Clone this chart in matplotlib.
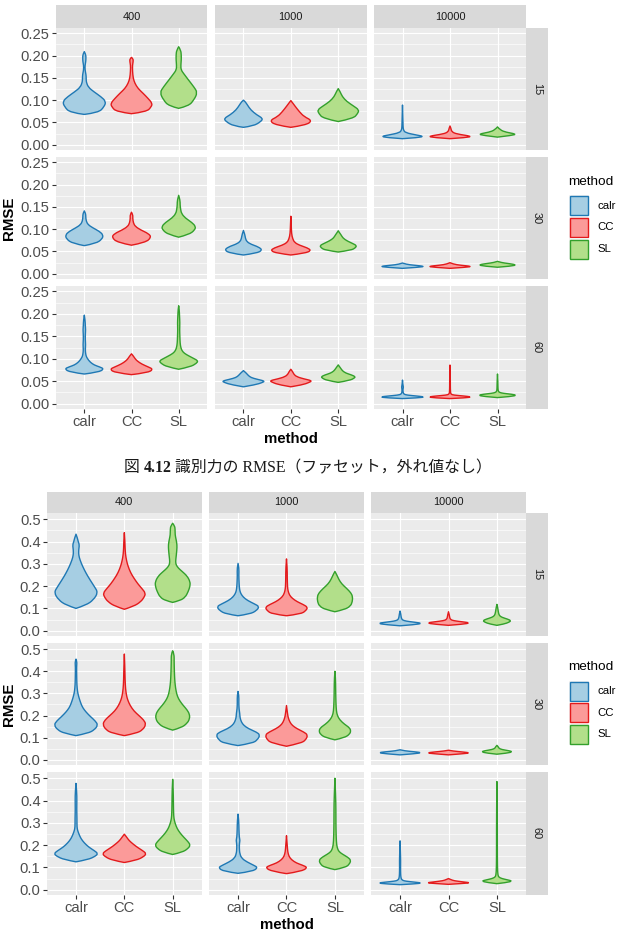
import matplotlib
matplotlib.use("Agg")
import matplotlib.pyplot as plt
from matplotlib.patches import Rectangle, PathPatch
from matplotlib.path import Path

# ---------------- data ----------------
methods = ["calr", "CC", "SL"]
sizes = ["400", "1000", "10000"]
items = ["15", "30", "60"]
fill_colors = ["#A6CEE3", "#FB9A99", "#B2DF8A"]
line_colors = ["#1F78B4", "#E31A1C", "#33A02C"]

upper_yticks = [0.00, 0.05, 0.10, 0.15, 0.20, 0.25]
upper_yticklabels = ["0.00", "0.05", "0.10", "0.15", "0.20", "0.25"]
upper_yminor = [0.025, 0.075, 0.125, 0.175, 0.225]
lower_yticks = [0.0, 0.1, 0.2, 0.3, 0.4, 0.5]
lower_yticklabels = ["0.0", "0.1", "0.2", "0.3", "0.4", "0.5"]
lower_yminor = [0.05, 0.15, 0.25, 0.35, 0.45]

caption = ["図 ", "4.12", " 識別力の RMSE（ファセット，外れ値なし）"]

# violin outlines: (RMSE, half width) per method
# ---- upper chart (識別力) ----
up_15_400 = [
    [(0.068, 0), (0.072, 0.30), (0.085, 0.42), (0.097, 0.46), (0.108, 0.35), (0.119, 0.20), (0.129, 0.085),
     (0.141, 0.04), (0.150, 0.04), (0.158, 0.035), (0.168, 0.015), (0.178, 0.015), (0.186, 0.03),
     (0.195, 0.035), (0.203, 0.03), (0.209, 0)],
    [(0.0696, 0), (0.074, 0.32), (0.085, 0.42), (0.093, 0.44), (0.104, 0.35), (0.115, 0.25), (0.126, 0.14),
     (0.138, 0.07), (0.150, 0.035), (0.165, 0.022), (0.178, 0.02), (0.186, 0.035), (0.193, 0.035), (0.196, 0)],
    [(0.0816, 0), (0.087, 0.21), (0.100, 0.32), (0.117, 0.40), (0.130, 0.32), (0.145, 0.21), (0.159, 0.11),
     (0.168, 0.05), (0.178, 0.045), (0.190, 0.055), (0.201, 0.055), (0.212, 0.045), (0.220, 0)],
]
up_15_1000 = [
    [(0.039, 0), (0.042, 0.21), (0.052, 0.37), (0.059, 0.41), (0.067, 0.28), (0.078, 0.155), (0.089, 0.085),
     (0.097, 0.035), (0.100, 0)],
    [(0.039, 0), (0.044, 0.32), (0.054, 0.45), (0.063, 0.28), (0.074, 0.18), (0.087, 0.085), (0.095, 0.03),
     (0.099, 0)],
    [(0.052, 0), (0.059, 0.32), (0.070, 0.41), (0.078, 0.44), (0.087, 0.32), (0.097, 0.18), (0.108, 0.085),
     (0.119, 0.04), (0.126, 0)],
]
up_15_10000 = [
    [(0.0135, 0), (0.016, 0.35), (0.019, 0.44), (0.022, 0.28), (0.027, 0.06), (0.033, 0.02), (0.040, 0.012),
     (0.060, 0.008), (0.089, 0)],
    [(0.0135, 0), (0.016, 0.35), (0.019, 0.46), (0.024, 0.14), (0.029, 0.035), (0.037, 0.02), (0.042, 0)],
    [(0.017, 0), (0.021, 0.32), (0.024, 0.39), (0.028, 0.18), (0.033, 0.055), (0.040, 0)],
]
up_30_400 = [
    [(0.063, 0), (0.068, 0.25), (0.078, 0.38), (0.087, 0.40), (0.095, 0.32), (0.103, 0.18), (0.110, 0.08),
     (0.118, 0.04), (0.128, 0.03), (0.135, 0.03), (0.141, 0)],
    [(0.064, 0), (0.070, 0.30), (0.082, 0.42), (0.090, 0.36), (0.098, 0.20), (0.106, 0.08), (0.114, 0.04),
     (0.125, 0.025), (0.132, 0.03), (0.138, 0)],
    [(0.082, 0), (0.088, 0.22), (0.098, 0.34), (0.106, 0.36), (0.115, 0.28), (0.125, 0.14), (0.135, 0.06),
     (0.145, 0.04), (0.155, 0.03), (0.165, 0.03), (0.176, 0)],
]
up_30_1000 = [
    [(0.042, 0), (0.046, 0.28), (0.053, 0.40), (0.060, 0.32), (0.066, 0.16), (0.072, 0.07), (0.080, 0.04),
     (0.088, 0.03), (0.097, 0)],
    [(0.042, 0), (0.046, 0.30), (0.052, 0.43), (0.058, 0.35), (0.064, 0.18), (0.070, 0.08), (0.078, 0.04),
     (0.090, 0.015), (0.110, 0.008), (0.129, 0)],
    [(0.0486, 0), (0.053, 0.28), (0.058, 0.36), (0.063, 0.39), (0.068, 0.30), (0.074, 0.18), (0.080, 0.10),
     (0.087, 0.06), (0.093, 0.02), (0.0964, 0)],
]
up_30_10000 = [
    [(0.012, 0), (0.0145, 0.35), (0.0165, 0.47), (0.019, 0.25), (0.021, 0.08), (0.024, 0)],
    [(0.012, 0), (0.0145, 0.35), (0.0165, 0.46), (0.019, 0.22), (0.0215, 0.07), (0.0247, 0)],
    [(0.0145, 0), (0.017, 0.30), (0.020, 0.40), (0.023, 0.22), (0.025, 0.08), (0.0277, 0)],
]
up_60_400 = [
    [(0.066, 0), (0.070, 0.30), (0.0773, 0.42), (0.082, 0.32), (0.086, 0.21), (0.092, 0.13), (0.0976, 0.085),
     (0.104, 0.045), (0.110, 0.03), (0.120, 0.02), (0.131, 0.028), (0.143, 0.02), (0.155, 0.022),
     (0.165, 0.028), (0.175, 0.02), (0.185, 0.018), (0.197, 0)],
    [(0.0646, 0), (0.069, 0.35), (0.0766, 0.46), (0.082, 0.35), (0.088, 0.22), (0.095, 0.12), (0.101, 0.07),
     (0.106, 0.04), (0.111, 0)],
    [(0.0766, 0), (0.082, 0.25), (0.090, 0.38), (0.0953, 0.41), (0.100, 0.33), (0.106, 0.22), (0.112, 0.12),
     (0.118, 0.07), (0.125, 0.045), (0.135, 0.03), (0.150, 0.025), (0.165, 0.02), (0.180, 0.025),
     (0.195, 0.018), (0.210, 0.012), (0.218, 0)],
]
up_60_1000 = [
    [(0.0375, 0), (0.042, 0.25), (0.047, 0.40), (0.0503, 0.45), (0.054, 0.30), (0.058, 0.16), (0.063, 0.10),
     (0.068, 0.06), (0.0736, 0)],
    [(0.0375, 0), (0.042, 0.25), (0.047, 0.38), (0.051, 0.45), (0.055, 0.28), (0.060, 0.12), (0.066, 0.06),
     (0.071, 0.04), (0.0766, 0)],
    [(0.0473, 0), (0.052, 0.25), (0.057, 0.34), (0.060, 0.36), (0.064, 0.28), (0.068, 0.16), (0.073, 0.09),
     (0.079, 0.05), (0.0863, 0)],
]
up_60_10000 = [
    [(0.0113, 0), (0.013, 0.35), (0.015, 0.47), (0.017, 0.30), (0.019, 0.10), (0.021, 0.03), (0.025, 0.012),
     (0.032, 0.01), (0.037, 0.02), (0.042, 0.008), (0.0525, 0)],
    [(0.0113, 0), (0.013, 0.35), (0.015, 0.45), (0.017, 0.30), (0.019, 0.08), (0.021, 0.02), (0.026, 0.01),
     (0.040, 0.007), (0.060, 0.007), (0.086, 0)],
    [(0.0135, 0), (0.016, 0.30), (0.0188, 0.40), (0.021, 0.30), (0.023, 0.12), (0.025, 0.04), (0.028, 0.015),
     (0.035, 0.01), (0.050, 0.008), (0.066, 0)],
]

# ---- lower chart ----
lo_15_400 = [
    [(0.100, 0), (0.115, 0.21), (0.138, 0.36), (0.171, 0.455), (0.198, 0.38), (0.228, 0.29), (0.257, 0.21),
     (0.287, 0.14), (0.317, 0.083), (0.340, 0.055), (0.362, 0.055), (0.385, 0.07), (0.400, 0.045),
     (0.415, 0.03), (0.433, 0)],
    [(0.096, 0), (0.110, 0.20), (0.130, 0.34), (0.150, 0.41), (0.168, 0.44), (0.190, 0.36), (0.210, 0.28),
     (0.235, 0.20), (0.260, 0.13), (0.290, 0.075), (0.315, 0.045), (0.340, 0.025), (0.370, 0.015),
     (0.400, 0.012), (0.440, 0)],
    [(0.127, 0), (0.135, 0.15), (0.150, 0.26), (0.175, 0.32), (0.200, 0.36), (0.220, 0.36), (0.245, 0.30),
     (0.265, 0.20), (0.280, 0.12), (0.295, 0.07), (0.310, 0.06), (0.330, 0.07), (0.360, 0.085),
     (0.385, 0.09), (0.410, 0.07), (0.430, 0.05), (0.455, 0.05), (0.470, 0.04), (0.482, 0)],
]
lo_15_1000 = [
    [(0.067, 0), (0.075, 0.25), (0.090, 0.38), (0.108, 0.44), (0.120, 0.34), (0.135, 0.20), (0.150, 0.11),
     (0.165, 0.06), (0.180, 0.035), (0.200, 0.025), (0.220, 0.02), (0.250, 0.015), (0.280, 0.02), (0.302, 0)],
    [(0.067, 0), (0.075, 0.30), (0.090, 0.40), (0.105, 0.44), (0.118, 0.34), (0.130, 0.22), (0.145, 0.12),
     (0.160, 0.06), (0.180, 0.03), (0.200, 0.02), (0.240, 0.015), (0.280, 0.015), (0.322, 0)],
    [(0.085, 0), (0.095, 0.20), (0.110, 0.32), (0.130, 0.36), (0.153, 0.365), (0.170, 0.33), (0.190, 0.24),
     (0.210, 0.14), (0.230, 0.08), (0.250, 0.04), (0.266, 0)],
]
lo_15_10000 = [
    [(0.022, 0), (0.027, 0.30), (0.033, 0.46), (0.038, 0.30), (0.043, 0.12), (0.048, 0.05), (0.055, 0.03),
     (0.065, 0.02), (0.075, 0.015), (0.088, 0)],
    [(0.024, 0), (0.029, 0.30), (0.035, 0.45), (0.040, 0.28), (0.045, 0.10), (0.050, 0.045), (0.058, 0.025),
     (0.068, 0.02), (0.085, 0)],
    [(0.024, 0), (0.030, 0.15), (0.038, 0.25), (0.045, 0.29), (0.052, 0.22), (0.060, 0.10), (0.068, 0.05),
     (0.078, 0.035), (0.090, 0.025), (0.105, 0.015), (0.118, 0)],
]
lo_30_400 = [
    [(0.109, 0), (0.120, 0.25), (0.135, 0.38), (0.157, 0.455), (0.175, 0.40), (0.195, 0.30), (0.215, 0.21),
     (0.235, 0.14), (0.255, 0.10), (0.275, 0.07), (0.290, 0.05), (0.310, 0.03), (0.340, 0.018),
     (0.380, 0.014), (0.420, 0.012), (0.445, 0.02), (0.455, 0)],
    [(0.109, 0), (0.120, 0.25), (0.135, 0.38), (0.160, 0.45), (0.180, 0.40), (0.200, 0.30), (0.220, 0.20),
     (0.245, 0.12), (0.270, 0.07), (0.290, 0.045), (0.320, 0.025), (0.360, 0.015), (0.420, 0.01), (0.478, 0)],
    [(0.134, 0), (0.145, 0.18), (0.165, 0.30), (0.185, 0.35), (0.205, 0.35), (0.225, 0.30), (0.245, 0.22),
     (0.265, 0.15), (0.285, 0.10), (0.310, 0.07), (0.340, 0.05), (0.370, 0.04), (0.400, 0.035),
     (0.440, 0.03), (0.480, 0.03), (0.493, 0)],
]
lo_30_1000 = [
    [(0.064, 0), (0.075, 0.30), (0.090, 0.40), (0.112, 0.455), (0.125, 0.38), (0.140, 0.22), (0.155, 0.12),
     (0.170, 0.07), (0.190, 0.04), (0.210, 0.035), (0.230, 0.02), (0.260, 0.015), (0.290, 0.018), (0.309, 0)],
    [(0.061, 0), (0.075, 0.30), (0.090, 0.40), (0.112, 0.44), (0.125, 0.36), (0.140, 0.22), (0.155, 0.12),
     (0.170, 0.07), (0.190, 0.035), (0.210, 0.02), (0.245, 0)],
    [(0.090, 0), (0.100, 0.20), (0.115, 0.30), (0.130, 0.33), (0.145, 0.30), (0.160, 0.20), (0.180, 0.10),
     (0.200, 0.05), (0.220, 0.03), (0.260, 0.02), (0.320, 0.015), (0.370, 0.012), (0.400, 0)],
]
lo_30_10000 = [
    [(0.022, 0), (0.027, 0.30), (0.032, 0.45), (0.036, 0.30), (0.040, 0.10), (0.045, 0)],
    [(0.022, 0), (0.027, 0.30), (0.031, 0.45), (0.035, 0.30), (0.039, 0.10), (0.043, 0)],
    [(0.025, 0), (0.030, 0.22), (0.036, 0.32), (0.041, 0.25), (0.046, 0.10), (0.052, 0.04), (0.058, 0.03),
     (0.065, 0)],
]
lo_60_400 = [
    [(0.125, 0), (0.135, 0.25), (0.150, 0.40), (0.162, 0.455), (0.175, 0.38), (0.190, 0.27), (0.210, 0.17),
     (0.230, 0.10), (0.250, 0.06), (0.265, 0.035), (0.280, 0.02), (0.320, 0.02), (0.360, 0.015),
     (0.400, 0.018), (0.440, 0.015), (0.477, 0)],
    [(0.122, 0), (0.132, 0.25), (0.148, 0.40), (0.162, 0.455), (0.175, 0.38), (0.190, 0.27), (0.205, 0.18),
     (0.220, 0.10), (0.235, 0.05), (0.249, 0)],
    [(0.158, 0), (0.168, 0.20), (0.185, 0.32), (0.200, 0.365), (0.215, 0.32), (0.235, 0.23), (0.255, 0.15),
     (0.275, 0.09), (0.295, 0.055), (0.310, 0.035), (0.330, 0.02), (0.380, 0.015), (0.450, 0.012), (0.495, 0)],
]
lo_60_1000 = [
    [(0.0735, 0), (0.082, 0.30), (0.099, 0.41), (0.110, 0.32), (0.125, 0.18), (0.140, 0.08), (0.160, 0.035),
     (0.190, 0.025), (0.210, 0.03), (0.222, 0.04), (0.235, 0.025), (0.270, 0.018), (0.310, 0.015), (0.339, 0)],
    [(0.072, 0), (0.082, 0.30), (0.099, 0.44), (0.110, 0.33), (0.120, 0.20), (0.135, 0.10), (0.150, 0.05),
     (0.170, 0.025), (0.200, 0.015), (0.242, 0)],
    [(0.090, 0), (0.100, 0.22), (0.115, 0.30), (0.132, 0.33), (0.145, 0.27), (0.160, 0.15), (0.170, 0.09),
     (0.180, 0.06), (0.200, 0.035), (0.240, 0.025), (0.300, 0.02), (0.360, 0.02), (0.420, 0.015), (0.500, 0)],
]
lo_60_10000 = [
    [(0.0225, 0), (0.026, 0.30), (0.030, 0.46), (0.034, 0.30), (0.038, 0.12), (0.042, 0.05), (0.050, 0.02),
     (0.070, 0.012), (0.100, 0.01), (0.130, 0.012), (0.160, 0.008), (0.219, 0)],
    [(0.024, 0), (0.028, 0.30), (0.031, 0.46), (0.035, 0.30), (0.040, 0.12), (0.045, 0.05), (0.050, 0)],
    [(0.027, 0), (0.032, 0.20), (0.039, 0.32), (0.044, 0.22), (0.050, 0.10), (0.056, 0.04), (0.065, 0.02),
     (0.100, 0.01), (0.200, 0.008), (0.350, 0.008), (0.485, 0)],
]

upper_grid = [[up_15_400, up_15_1000, up_15_10000],
              [up_30_400, up_30_1000, up_30_10000],
              [up_60_400, up_60_1000, up_60_10000]]
lower_grid = [[lo_15_400, lo_15_1000, lo_15_10000],
              [lo_30_400, lo_30_1000, lo_30_10000],
              [lo_60_400, lo_60_1000, lo_60_10000]]

# ---------------- drawing ----------------
W, H = 624, 947
fig = plt.figure(figsize=(W / 100, H / 100), dpi=100)
SANS = ["Liberation Sans", "DejaVu Sans"]


def rect(l, t, r, b):
    return [l / W, 1 - b / H, (r - l) / W, (b - t) / H]


def fx(x):
    return x / W


def fy(y):
    return 1 - y / H


def smooth_side(pts):
    """quadratic B-spline path through the end points, using the knots as control points"""
    verts = [pts[0]]
    codes = []
    n = len(pts)
    if n <= 2:
        return [pts[-1]], [Path.LINETO]
    for i in range(1, n - 2):
        mid = ((pts[i][0] + pts[i + 1][0]) / 2, (pts[i][1] + pts[i + 1][1]) / 2)
        verts_i = [pts[i], mid]
        codes += [Path.CURVE3, Path.CURVE3]
        verts += verts_i
    verts += [pts[n - 2], pts[n - 1]]
    codes += [Path.CURVE3, Path.CURVE3]
    return verts[1:], codes


def draw_violin(ax, xc, prof, fc, ec):
    left = [(xc - w, y) for y, w in prof]
    right = [(xc + w, y) for y, w in reversed(prof)]
    v1, c1 = smooth_side(left)
    v2, c2 = smooth_side(right)
    verts = [left[0]] + v1 + v2 + [left[0]]
    codes = [Path.MOVETO] + c1 + c2 + [Path.CLOSEPOLY]
    patch = PathPatch(Path(verts, codes), facecolor=fc, edgecolor=ec, linewidth=1.0,
                      joinstyle="round", zorder=3)
    ax.add_patch(patch)


def draw_chart(grid, cols, rows, strip_top, right_strip, ylim, yticks, yticklabels, yminor,
               ylab_xy, xlab_xy, legend_top):
    for i, (t, b) in enumerate(rows):
        for j, (l, r) in enumerate(cols):
            ax = fig.add_axes(rect(l, t, r, b))
            ax.set_facecolor("#EBEBEB")
            for s in ax.spines.values():
                s.set_visible(False)
            ax.set_xlim(0.4, 3.6)
            ax.set_ylim(*ylim)
            ax.set_xticks([1, 2, 3])
            ax.set_yticks(yticks)
            ax.set_yticks(yminor, minor=True)
            ax.grid(which="major", color="white", linewidth=0.85)
            ax.grid(which="minor", axis="y", color="white", linewidth=0.45)
            ax.set_axisbelow(True)
            ax.tick_params(which="minor", length=0)
            ax.tick_params(which="major", color="#333333", width=0.8, length=3.2,
                           labelsize=10.6, labelcolor="#4D4D4D", pad=1.4)
            if j == 0:
                ax.set_yticklabels(yticklabels, family=SANS)
            else:
                ax.set_yticklabels([])
                ax.tick_params(axis="y", length=0)
            if i == len(rows) - 1:
                ax.set_xticklabels(methods, family=SANS)
            else:
                ax.set_xticklabels([])
                ax.tick_params(axis="x", length=0)
            for k in range(3):
                draw_violin(ax, k + 1, grid[i][j][k], fill_colors[k], line_colors[k])
    # top strips
    for j, (l, r) in enumerate(cols):
        sa = fig.add_axes(rect(l, strip_top[0], r, strip_top[1]))
        sa.set_facecolor("#D9D9D9")
        sa.set_xticks([]); sa.set_yticks([])
        for s in sa.spines.values():
            s.set_visible(False)
        sa.text(0.5, 0.5, sizes[j], ha="center", va="center", fontsize=7.9,
                color="#1A1A1A", family=SANS, transform=sa.transAxes)
    # right strips
    for i, (t, b) in enumerate(rows):
        sa = fig.add_axes(rect(right_strip[0], t, right_strip[1], b))
        sa.set_facecolor("#D9D9D9")
        sa.set_xticks([]); sa.set_yticks([])
        for s in sa.spines.values():
            s.set_visible(False)
        sa.text(0.5, 0.5, items[i], ha="center", va="center", fontsize=7.9, rotation=-90,
                color="#1A1A1A", family=SANS, transform=sa.transAxes)
    # axis titles
    fig.text(fx(ylab_xy[0]), fy(ylab_xy[1]), "RMSE", rotation=90, ha="center", va="center",
             fontsize=10.8, fontweight="bold", family=SANS)
    fig.text(fx(xlab_xy[0]), fy(xlab_xy[1]), "method", ha="center", va="center",
             fontsize=10.8, fontweight="bold", family=SANS)
    # legend
    lx = 569
    fig.text(fx(lx - 1), fy(legend_top), "method", ha="left", va="center", fontsize=9.7,
             family=SANS, color="black")
    ky = legend_top + 13.5
    for k in range(3):
        y0 = ky + k * 21.5
        fig.add_artist(Rectangle((fx(lx), fy(y0 + 21)), 20 / W, 21 / H, transform=fig.transFigure,
                                 facecolor="#F2F2F2", edgecolor="none"))
        fig.add_artist(Rectangle((fx(lx + 1), fy(y0 + 20)), 18 / W, 19 / H, transform=fig.transFigure,
                                 facecolor=fill_colors[k], edgecolor=line_colors[k], linewidth=1.0))
        fig.text(fx(lx + 28), fy(y0 + 10.5), methods[k], ha="left", va="center", fontsize=8.2,
                 family=SANS, color="black")


draw_chart(upper_grid,
           cols=[(56, 207), (215, 366.7), (374, 526)],
           rows=[(28, 150), (157, 279), (286, 409)],
           strip_top=(5, 28), right_strip=(526, 548),
           ylim=(-0.0119, 0.262), yticks=upper_yticks, yticklabels=upper_yticklabels,
           yminor=upper_yminor, ylab_xy=(9, 218), xlab_xy=(291, 439), legend_top=182)

draw_chart(lower_grid,
           cols=[(47, 201.7), (209, 364), (371, 526)],
           rows=[(513, 636), (643, 765), (772, 895)],
           strip_top=(491.7, 513), right_strip=(526, 548),
           ylim=(-0.0238, 0.528), yticks=lower_yticks, yticklabels=lower_yticklabels,
           yminor=lower_yminor, ylab_xy=(9, 704), xlab_xy=(286.5, 925), legend_top=667)

# caption (mixed fonts, bold number)
renderer = fig.canvas.get_renderer()
cap_fam = ["Liberation Serif", "Noto Sans CJK JP"]
weights = ["normal", "bold", "normal"]
parts = []
for s, wgt in zip(caption, weights):
    parts.append(fig.text(0, fy(468), s, ha="left", va="center", fontsize=11.4, fontweight=wgt,
                          family=cap_fam, color="#1A1A1A"))
widths = [p.get_window_extent(renderer).width for p in parts]
x0 = 308 - sum(widths) / 2
for p, w in zip(parts, widths):
    p.set_x(fx(x0))
    x0 += w

fig.savefig("out.png", dpi=100, facecolor="white")
